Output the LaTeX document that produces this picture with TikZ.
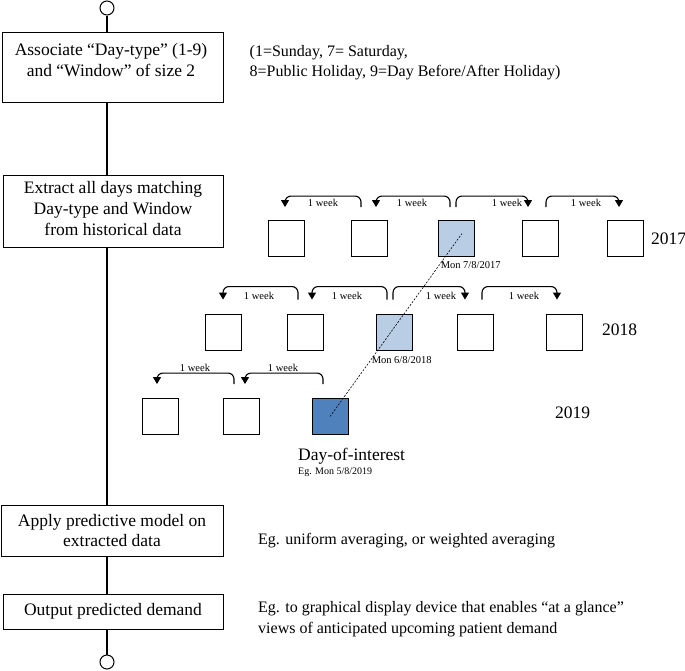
\documentclass[tikz,border=0pt]{standalone}
\usepackage{fontspec}
\setmainfont{Liberation Serif}
\usetikzlibrary{arrows.meta,calc}
\definecolor{lightblue}{HTML}{B9CDE5}
\definecolor{darkblue}{HTML}{4F81BD}
\begin{document}
\begin{tikzpicture}[x=1pt,y=-1pt,
  box/.style={draw, line width=1.1pt, inner sep=0pt, anchor=north west},
  mtext/.style={align=center, inner sep=0pt, font=\fontsize{17.5}{21}\selectfont},
  rtext/.style={align=left, anchor=west, inner sep=0pt, font=\fontsize{16}{20.5}\selectfont},
  term/.style={circle, draw, line width=1pt, minimum size=14pt, inner sep=0pt},
  flow/.style={line width=1.1pt},
  sq/.style={draw, line width=0.9pt, minimum size=36pt, inner sep=0pt},
  warr/.style={line width=1.1pt, rounded corners=6pt, -{Triangle[length=7pt,width=8pt]}},
  wk/.style={inner sep=0pt, font=\fontsize{10.5}{12}\selectfont},
  small/.style={inner sep=0pt, anchor=west, font=\fontsize{10.5}{12}\selectfont},
  year/.style={inner sep=0pt, anchor=west, font=\fontsize{17.5}{21}\selectfont},
  dline/.style={line width=0.6pt, dash pattern=on 2pt off 1.5pt}
]
\useasboundingbox (0,0) rectangle (685,670);

% left column
\node[term] (c1) at (107,8) {};
\node[box, minimum width=221pt, minimum height=70pt] (b1) at (1.5,32) {};
\node[mtext] (t1) at (111,60.5) {Associate “Day-type” (1-9)\\and “Window” of size 2};
\node[box, minimum width=220pt, minimum height=72pt] (b2) at (3,175) {};
\node[mtext] (t2) at (113,209) {Extract all days matching\\Day-type and Window\\from historical data};
\node[box, minimum width=222pt, minimum height=51pt] (b3) at (1,505) {};
\node[mtext, font=\fontsize{17.5}{20}\selectfont] (t3) at (112,530.5) {Apply predictive model on\\extracted data};
\node[box, minimum width=220pt, minimum height=35pt] (b4) at (3,594) {};
\node[mtext] (t4) at (113,611.5) {Output predicted demand};
\node[term] (c2) at (107,662) {};

\draw[flow] (c1.south) -- (c1 |- b1.north);
\draw[flow] (c1 |- b1.south) -- (c1 |- b2.north);
\draw[flow] (c1 |- b2.south) -- (c1 |- b3.north);
\draw[flow] (c1 |- b3.south) -- (c1 |- b4.north);
\draw[flow] (c1 |- b4.south) -- (c2.north);

% right-hand notes
\node[rtext, font=\fontsize{16}{19.5}\selectfont] (n1) at (249.5,62.5) {(1=Sunday, 7= Saturday,\\8=Public Holiday, 9=Day Before/After Holiday)};
\node[rtext] (n2) at (258,541) {Eg. uniform averaging, or weighted averaging};
\node[rtext] (n3) at (258,619) {Eg. to graphical display device that enables “at a glance”\\views of anticipated upcoming patient demand};

% 2017 row
\node[sq] (a1) at (286,238.5) {};
\node[sq] (a2) at (369,238.5) {};
\node[sq, fill=lightblue] (a3) at (456,238.5) {};
\node[sq] (a4) at (540,238.5) {};
\node[sq] (a5) at (625,238.5) {};
\node[year] (y17) at (651,239) {2017};
\node[small] (d17) at ($(a3.south west)+(3,8)$) {Mon 7/8/2017};

% 2018 row
\node[sq] (m1) at (223,332) {};
\node[sq] (m2) at (305,332) {};
\node[sq, fill=lightblue] (m3) at (394,332) {};
\node[sq] (m4) at (475,332) {};
\node[sq] (m5) at (564,332) {};
\node[year] (y18) at (602,330) {2018};
\node[small] (d18) at ($(m3.south west)+(-4,10)$) {Mon 6/8/2018};

% 2019 row
\node[sq] (q1) at (160,416.5) {};
\node[sq] (q2) at (241,416.5) {};
\node[sq, fill=darkblue] (q3) at (330,416.5) {};
\node[year] (y19) at (555,413) {2019};
\node[inner sep=0pt, anchor=west, font=\fontsize{17.5}{21}\selectfont] (doi) at (298,456) {Day-of-interest};
\node[inner sep=0pt, anchor=west, font=\fontsize{10}{12}\selectfont] (eg) at (298,472) {Eg. Mon 5/8/2019};

% dashed link
\draw[dline] (q3.center) -- ($(a3.center)+(6,-5)$);

% 2017 arrows
\draw[warr] ($(a2.north)+(-8,-13)$) -- ++(0,-11) -| ($(a1.north)+(-1,-13)$);
\draw[warr] ($(a3.north)+(-6,-13)$) -- ++(0,-11) -| ($(a2.north)+(7,-13)$);
\draw[warr] ($(a3.north)+(0,-13)$) -- ++(0,-11) -| ($(a4.north)+(-12,-13)$);
\draw[warr] ($(a4.north)+(6,-13)$) -- ++(0,-11) -| ($(a5.north)+(-6,-13)$);
\node[wk] (w1) at (323,202.5) {1 week};
\node[wk] (w2) at (412,202.5) {1 week};
\node[wk] (w3) at (507,202.5) {1 week};
\node[wk] (w4) at (586,202.5) {1 week};

% 2018 arrows
\draw[warr] ($(m2.north)+(-7,-14)$) -- ++(0,-13) -| ($(m1.north)+(0,-14)$);
\draw[warr] ($(m3.north)+(-7,-14)$) -- ++(0,-13) -| ($(m2.north)+(7,-14)$);
\draw[warr] ($(m3.north)+(-1,-14)$) -- ++(0,-13) -| ($(m4.north)+(-10,-14)$);
\draw[warr] ($(m4.north)+(7,-14)$) -- ++(0,-13) -| ($(m5.north)+(-7,-14)$);
\node[wk] (v1) at (259,296) {1 week};
\node[wk] (v2) at (347,296) {1 week};
\node[wk] (v3) at (441,296) {1 week};
\node[wk] (v4) at (524,296) {1 week};

% 2019 arrows
\draw[warr] ($(q2.north)+(-7,-14)$) -- ++(0,-11) -| ($(q1.north)+(-3,-14)$);
\draw[warr] ($(q3.north)+(-7,-14)$) -- ++(0,-11) -| ($(q2.north)+(4,-14)$);
\node[wk] (u1) at (195,368) {1 week};
\node[wk] (u2) at (283,368) {1 week};
\end{tikzpicture}
\end{document}
